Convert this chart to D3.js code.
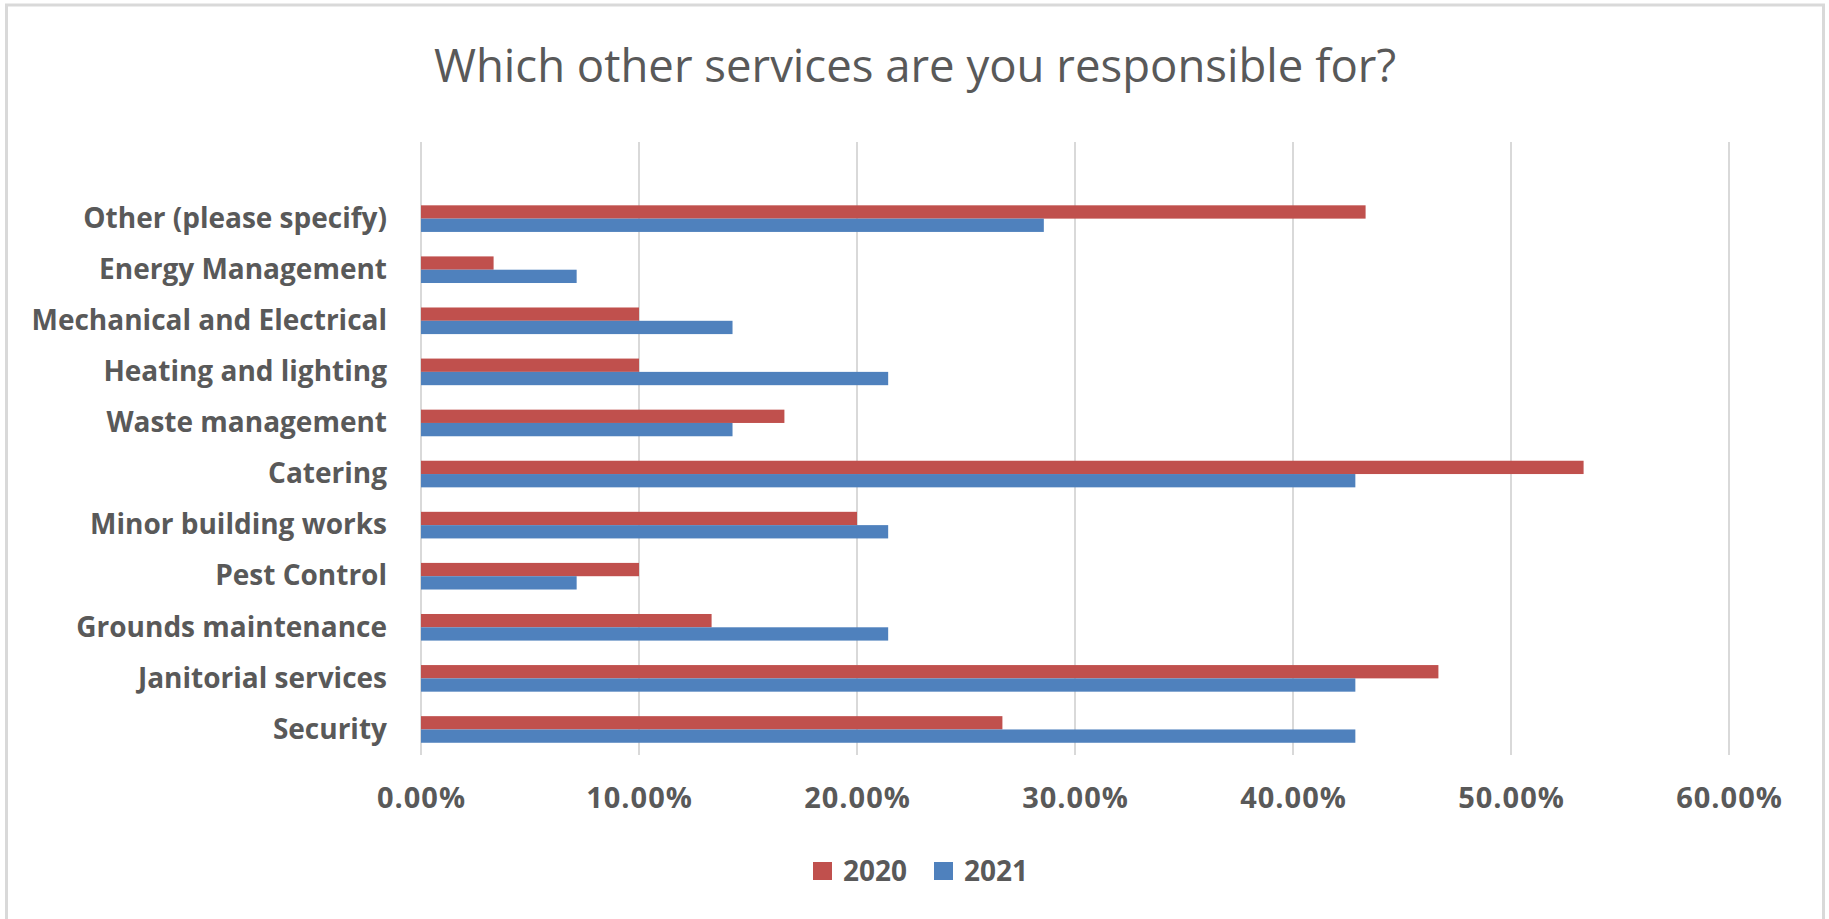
<!DOCTYPE html>
<html>
<head>
<meta charset="utf-8">
<script src="https://cdn.jsdelivr.net/npm/d3@7"></script>
<style>
  html, body { margin: 0; padding: 0; background: #ffffff; }
  svg { display: block; }
</style>
</head>
<body>
<svg id="chart" width="1829" height="919"></svg>
<script>
// ---- data (top to bottom as shown) ----
const categories = [
  "Other (please specify)",
  "Energy Management",
  "Mechanical and Electrical",
  "Heating and lighting",
  "Waste management",
  "Catering",
  "Minor building works",
  "Pest Control",
  "Grounds maintenance",
  "Janitorial services",
  "Security"
];
const seriesNames = ["2020", "2021"];
const values2020 = [0.4333, 0.0333, 0.10, 0.10, 0.1667, 0.5333, 0.20, 0.10, 0.1333, 0.4667, 0.2667];
const values2021 = [0.2857, 0.0714, 0.1429, 0.2143, 0.1429, 0.4286, 0.2143, 0.0714, 0.2143, 0.4286, 0.4286];
const tickValues = [0, 0.1, 0.2, 0.3, 0.4, 0.5, 0.6];
const titleText = "Which other services are you responsible for?";

const colors = { "2020": "#C0504D", "2021": "#4F81BD" };
const textColor = "#595959";
const gridColor = "#D9D9D9";
const labelFont = "'Open Sans', sans-serif";

const svg = d3.select("#chart");

// frame
svg.append("rect")
  .attr("x", 6.5).attr("y", 5)
  .attr("width", 1817).attr("height", 1000)
  .attr("fill", "#ffffff")
  .attr("stroke", gridColor).attr("stroke-width", 3);

// scales
const x = d3.scaleLinear().domain([0, 0.6]).range([421, 1729]);
const y = d3.scaleBand().domain([" "].concat(categories)).range([142, 755]).paddingInner(0).paddingOuter(0);
const ySub = d3.scaleBand().domain(seriesNames).range([0, y.bandwidth()]).paddingInner(0).paddingOuter(0.92);

// title
svg.append("text")
  .attr("x", 915).attr("y", 82)
  .attr("text-anchor", "middle")
  .attr("font-family", labelFont)
  .attr("font-size", 45.5)
  .attr("font-weight", 400)
  .attr("fill", textColor)
  .text(titleText);

// gridlines
svg.append("g").selectAll("line").data(tickValues).join("line")
  .attr("x1", d => x(d)).attr("x2", d => x(d))
  .attr("y1", 142).attr("y2", 755)
  .attr("stroke", gridColor).attr("stroke-width", 2);

// x axis labels
const xAxis = d3.axisBottom(x).tickValues(tickValues).tickSize(0).tickPadding(0)
  .tickFormat(d => (d * 100).toFixed(2) + "%");
const gx = svg.append("g").attr("transform", "translate(0,808)").call(xAxis);
gx.select(".domain").remove();
gx.selectAll("text")
  .attr("dy", 0).attr("y", 0)
  .attr("font-family", labelFont).attr("font-size", 29).attr("font-weight", 700)
  .attr("letter-spacing", 1)
  .attr("fill", textColor);

// y axis labels
const yAxis = d3.axisLeft(y).tickValues(categories).tickSize(0).tickPadding(0);
const gy = svg.append("g").attr("transform", "translate(387,0)").call(yAxis);
gy.select(".domain").remove();
gy.selectAll("text")
  .attr("dy", "0.33em")
  .attr("x", 0)
  .attr("font-family", labelFont).attr("font-size", 28).attr("font-weight", 700)
  .attr("fill", textColor);

// bars
const rows = categories.map((c, i) => ({ cat: c, vals: [
  { key: "2020", v: values2020[i] },
  { key: "2021", v: values2021[i] }
]}));
const groups = svg.append("g").selectAll("g").data(rows).join("g")
  .attr("transform", d => `translate(0,${y(d.cat)})`);
groups.selectAll("rect").data(d => d.vals).join("rect")
  .attr("x", x(0))
  .attr("y", d => ySub(d.key))
  .attr("width", d => x(d.v) - x(0))
  .attr("height", ySub.bandwidth())
  .attr("fill", d => colors[d.key]);

// legend
const legendItems = [
  { key: "2020", sx: 813, tx: 843 },
  { key: "2021", sx: 934, tx: 964 }
];
const lg = svg.append("g");
lg.selectAll("rect").data(legendItems).join("rect")
  .attr("x", d => d.sx).attr("y", 862)
  .attr("width", 19).attr("height", 18)
  .attr("fill", d => colors[d.key]);
lg.selectAll("text").data(legendItems).join("text")
  .attr("x", d => d.tx).attr("y", 881)
  .attr("font-family", labelFont).attr("font-size", 28).attr("font-weight", 700)
  .attr("fill", textColor)
  .text(d => d.key);
</script>
</body>
</html>
